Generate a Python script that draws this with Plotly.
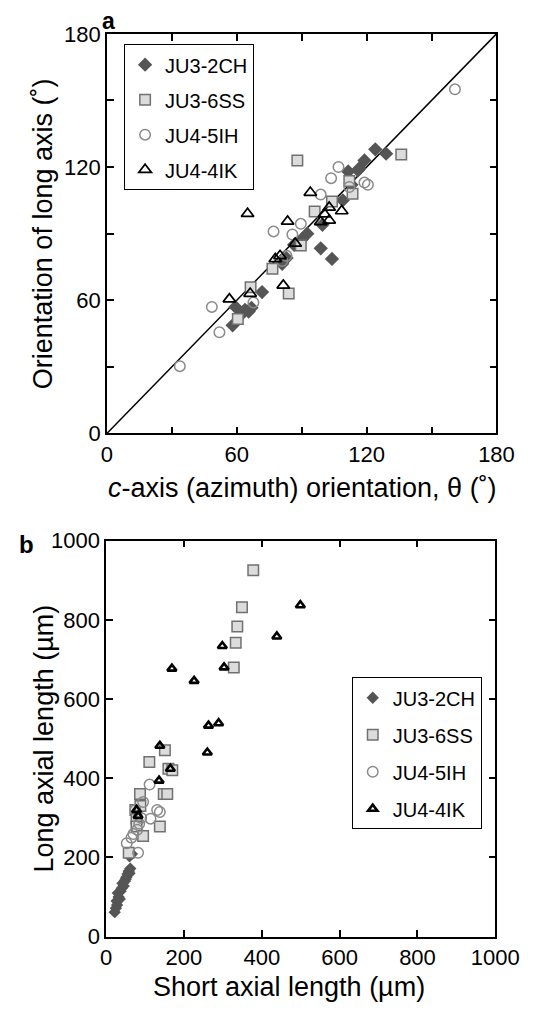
import plotly.graph_objects as go

# ---------------- Panel a data: c-axis azimuth (x) vs orientation of long axis (y)
a_2ch_x = [124, 129, 119, 111.5, 116, 113, 116.6, 109, 99.6, 92.6, 90, 98.8, 104, 81, 86.5, 83, 71.7, 59.4, 61.2, 58.1, 63.8, 66.8, 65.5]
a_2ch_y = [128, 126, 123, 118, 118.5, 112, 119.4, 105, 94, 90, 87.4, 83.4, 78.6, 76.4, 85, 79, 63.7, 57, 52.7, 48.7, 55.7, 56.6, 54.9]

a_6ss_x = [136, 88, 112, 113.5, 104, 96, 89.6, 76.5, 84, 66.4, 60.5]
a_6ss_y = [125.6, 123, 113.7, 108, 104.5, 100, 84.7, 74.2, 63, 65.9, 51.5]

a_5ih_x = [160.8, 107, 103.6, 119, 120.6, 98.8, 89.6, 77, 85.7, 83, 81, 48.5, 52, 33.7, 67.7, 112]
a_5ih_y = [155, 120, 115, 113, 112, 107.6, 94.4, 91, 89.6, 80, 77.7, 57, 45.6, 30.3, 59, 111]

a_4ik_x = [94, 65, 108.5, 102.7, 100.5, 102.7, 98.8, 83.5, 87, 77.8, 80, 81.5, 66.2, 56.6]
a_4ik_y = [108.5, 99, 100.2, 101.8, 98.8, 96, 95.3, 95.5, 85.6, 78.6, 80, 66.7, 63, 60.5]

a_ticks = [0, 30, 60, 90, 120, 150, 180]
a_ticktext = ["0", "", "60", "", "120", "", "180"]

# ---------------- Panel b data: short axial length (x) vs long axial length (y)
b_2ch_x = [22, 25, 28, 27, 32, 35, 30, 37, 40, 45, 42, 48, 52, 55, 58, 62, 60, 50, 66, 60]
b_2ch_y = [62, 72, 80, 90, 100, 95, 110, 115, 122, 128, 135, 140, 150, 158, 165, 172, 160, 145, 209, 203]

b_6ss_x = [378, 349, 337, 333, 328, 151, 111, 160, 170, 87, 148, 157, 75, 78, 78, 138, 95, 58, 88]
b_6ss_y = [925, 832, 783, 742, 680, 471, 441, 424, 420, 360, 360, 360, 320, 298, 278, 278, 254, 212, 330]

b_5ih_x = [111.6, 75, 131, 138, 114, 70, 53, 82, 90, 85, 80, 65, 95]
b_5ih_y = [384, 320, 320, 315, 298, 259, 236, 212, 300, 285, 270, 250, 340]

b_4ik_x = [499, 438.5, 303, 298.5, 169, 226, 263, 289, 260, 138, 165, 136, 78, 82]
b_4ik_y = [837, 758, 680, 734, 677, 646, 533, 539, 465, 482, 424, 394, 320, 305]

b_ticks = [0, 200, 400, 600, 800, 1000]

names = ["JU3-2CH", "JU3-6SS", "JU4-5IH", "JU4-4IK"]

FONT = "Liberation Sans, Arial, sans-serif"
W, H = 542, 1018


def styles(panel):
    big = panel == "a"
    return [
        dict(symbol="diamond", size=11 if big else 9.5, color="#555555", line=dict(width=0)),
        dict(symbol="square", size=10.5, color="#dcdcdc", line=dict(color="#707070", width=1.5)),
        dict(symbol="circle-open", size=10.5, color="#8a8a8a", line=dict(color="#8a8a8a", width=1.5)),
        dict(symbol="triangle-up-open", size=11 if big else 8, color="#000000",
             line=dict(color="#000000", width=1.7 if big else 2.6)),
    ]


fig = go.Figure()

# diagonal 1:1 line in panel a
fig.add_trace(go.Scatter(x=[a_ticks[0], a_ticks[-1]], y=[a_ticks[0], a_ticks[-1]], mode="lines",
                         line=dict(color="black", width=1.5), showlegend=False,
                         xaxis="x", yaxis="y", hoverinfo="skip"))

a_data = [(a_2ch_x, a_2ch_y), (a_6ss_x, a_6ss_y), (a_5ih_x, a_5ih_y), (a_4ik_x, a_4ik_y)]
b_data = [(b_2ch_x, b_2ch_y), (b_6ss_x, b_6ss_y), (b_5ih_x, b_5ih_y), (b_4ik_x, b_4ik_y)]

for i, (nm, (xs, ys), st) in enumerate(zip(names, a_data, styles("a"))):
    fig.add_trace(go.Scatter(x=xs, y=ys, mode="markers", name=nm, marker=st,
                             xaxis="x", yaxis="y", legend="legend", legendgroup="a" + str(i)))

for i, (nm, (xs, ys), st) in enumerate(zip(names, b_data, styles("b"))):
    fig.add_trace(go.Scatter(x=xs, y=ys, mode="markers", name=nm, marker=st,
                             xaxis="x2", yaxis="y2", legend="legend2", legendgroup="b" + str(i)))

axis_common = dict(showgrid=False, zeroline=False, showline=True, linecolor="black", linewidth=1.5,
                   mirror="allticks", ticks="inside", ticklen=7, tickwidth=1.5, tickcolor="black",
                   tickfont=dict(family=FONT, size=22, color="black"))


def px_x(p):
    return p / W


def px_y(p):
    return 1 - p / H


TITLE = 27
annotations = [
    dict(text="<b>a</b>", x=px_x(99), y=px_y(9), xanchor="left", font=dict(size=23, family=FONT)),
    dict(text="<b>b</b>", x=px_x(22), y=px_y(546), font=dict(size=24, family=FONT)),
    dict(text="<i>c</i>-axis (azimuth) orientation, θ (˚)", x=px_x(314), y=px_y(488),
         font=dict(size=TITLE, family=FONT)),
    dict(text="Orientation of long axis (˚)", x=px_x(40), y=px_y(227), textangle=-90,
         font=dict(size=TITLE, family=FONT)),
    dict(text="Short axial length (µm)", x=px_x(300), y=px_y(1000),
         font=dict(size=TITLE, family=FONT)),
    dict(text="Long axial length (µm)", x=px_x(40), y=px_y(745), textangle=-90,
         font=dict(size=TITLE, family=FONT)),
]
for an in annotations:
    an.setdefault("xanchor", "center")
    an.update(xref="paper", yref="paper", showarrow=False, yanchor="middle")

fig.update_layout(
    width=W, height=H,
    margin=dict(l=0, r=0, t=0, b=0),
    paper_bgcolor="white", plot_bgcolor="white",
    font=dict(family=FONT, color="black"),
    xaxis=dict(domain=[0.197, 0.958], range=[0, 180], tickvals=a_ticks, ticktext=a_ticktext,
               anchor="y", **axis_common),
    yaxis=dict(domain=[0.5756, 0.978], range=[0, 180], tickvals=a_ticks, ticktext=a_ticktext,
               anchor="x", **axis_common),
    xaxis2=dict(domain=[0.1956, 0.9557], range=[0, 1000], tickvals=b_ticks,
                anchor="y2", **axis_common),
    yaxis2=dict(domain=[0.0688, 0.4676], range=[0, 1000], tickvals=b_ticks,
                anchor="x2", **axis_common),
    legend=dict(x=px_x(125), y=px_y(33), xanchor="left", yanchor="top", bgcolor="white",
                bordercolor="black", borderwidth=1, font=dict(size=20, family=FONT),
                tracegroupgap=6, traceorder="grouped"),
    legend2=dict(x=px_x(366), y=px_y(682), xanchor="left", yanchor="top", bgcolor="white",
                 bordercolor="black", borderwidth=1, font=dict(size=20, family=FONT),
                 tracegroupgap=8, traceorder="grouped"),
    annotations=annotations,
)

fig.write_html("out.html")
